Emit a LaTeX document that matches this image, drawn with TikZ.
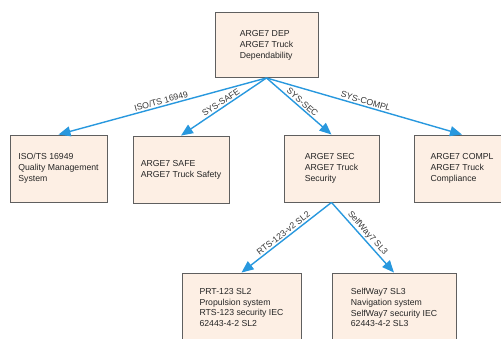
\documentclass[tikz,border=0pt]{standalone}
\usepackage{fontspec}
\setmainfont{Liberation Sans}
\usetikzlibrary{arrows.meta}
\definecolor{boxfill}{RGB}{253,239,228}
\definecolor{boxline}{RGB}{95,95,95}
\definecolor{arrowblue}{RGB}{40,152,222}
\definecolor{lbltext}{RGB}{55,55,55}
\begin{document}
\begin{tikzpicture}[x=1pt,y=-1pt,
  every node/.style={font=\fontsize{8.7}{10.9}\selectfont},
  box/.style={draw=boxline, line width=0.9pt, fill=boxfill, align=left, inner sep=0pt, text=black!85},
  conn/.style={draw=arrowblue, line width=1.4pt, -{Triangle[length=12pt,width=10pt]}},
  lbl/.style={text=lbltext, inner sep=1.5pt, sloped, above}]
\useasboundingbox (0,0) rectangle (501,338);
\node[box, minimum width=103pt, minimum height=65pt] (dep) at (266.5,45) {ARGE7 DEP\\ARGE7 Truck\\Dependability};
\node[box, minimum width=97pt, minimum height=67pt] (iso) at (58.5,168.5) {ISO/TS 16949\\Quality Management\\System};
\node[box, minimum width=96pt, minimum height=67pt] (safe) at (181,169.5) {ARGE7 SAFE\\ARGE7 Truck Safety};
\node[box, minimum width=95pt, minimum height=67pt] (sec) at (331.5,168.5) {ARGE7 SEC\\ARGE7 Truck\\Security};
\node[box, minimum width=96pt, minimum height=67pt] (compl) at (462,168.5) {ARGE7 COMPL\\ARGE7 Truck\\Compliance};
\node[box, minimum width=119pt, minimum height=69pt] (prt) at (241.5,307.5) {PRT-123 SL2\\Propulsion system\\RTS-123 security IEC\\62443-4-2 SL2};
\node[box, minimum width=124pt, minimum height=69pt] (sw) at (394,307.5) {SelfWay7 SL3\\Navigation system\\SelfWay7 security IEC\\62443-4-2 SL3};
\draw[conn] (dep.south) -- node[lbl] {ISO/TS 16949} (iso.north);
\draw[conn] (dep.south) -- node[lbl] {SYS-SAFE} (safe.north);
\draw[conn] (dep.south) -- node[lbl] {SYS-SEC} (sec.north);
\draw[conn] (dep.south) -- node[lbl] {SYS-COMPL} (compl.north);
\draw[conn] (sec.south) -- node[lbl] {RTS-123-v2 SL2} (prt.north);
\draw[conn] (sec.south) -- node[lbl] {SelfWay7 SL3} (sw.north);
\end{tikzpicture}
\end{document}
